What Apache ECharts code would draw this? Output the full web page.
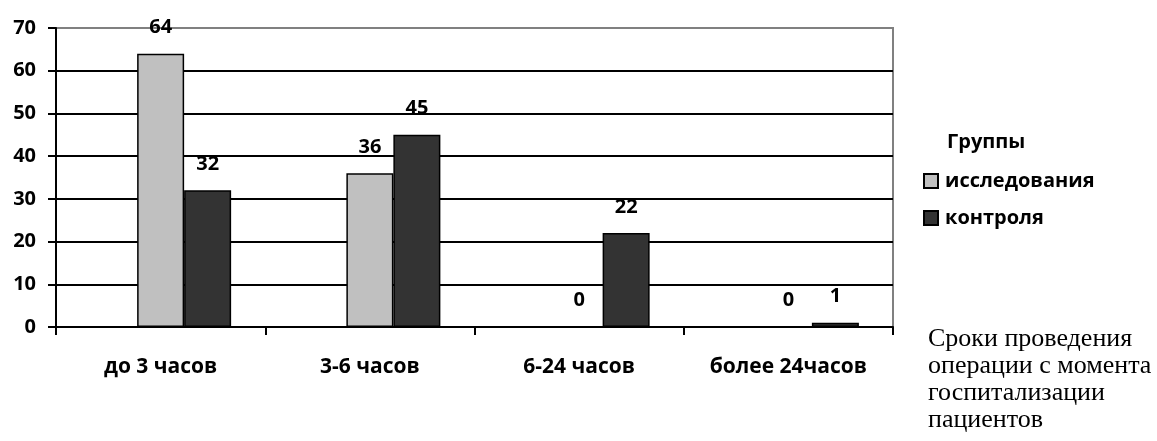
<!DOCTYPE html>
<html>
<head>
<meta charset="utf-8">
<script src="https://cdn.jsdelivr.net/npm/echarts@6/dist/echarts.min.js"></script>
<style>html,body{margin:0;padding:0;background:#fff}#c{width:1157px;height:441px}</style>
</head>
<body>
<div id="c"></div>
<script>
var categories = ['до 3 часов', '3-6 часов', '6-24 часов', 'более 24часов'];
var studyGroup = [64, 36, 0, 0];
var controlGroup = [32, 45, 22, 1];
var emptySlot = [null, null, null, null];
var yTicks = [0, 10, 20, 30, 40, 50, 60, 70];
var legendTitle = 'Группы';
var axisNote = 'Сроки проведения\nоперации с момента\nгоспитализации\nпациентов';

var FONT = 'Open Sans';
var chart = echarts.init(document.getElementById('c'), null, {renderer: 'canvas'});
var labelStyle = {show: true, position: 'top', distance: 16, color: '#000', fontFamily: FONT, fontWeight: 'bold', fontSize: 20};
var splitColors = yTicks.map(function (v, i) { return i === yTicks.length - 1 ? '#808080' : '#000'; });
chart.setOption({
  animation: false,
  backgroundColor: '#fff',
  title: [
    {text: legendTitle, left: 942, top: 127, textStyle: {fontFamily: FONT, fontWeight: 'bold', fontSize: 20, color: '#000'}},
    {text: axisNote, left: 923, top: 321, textStyle: {fontFamily: 'Liberation Serif', fontWeight: 'normal', fontSize: 26, lineHeight: 27, color: '#000'}}
  ],
  legend: {
    data: ['исследования', 'контроля'],
    orient: 'vertical', left: 923, top: 171, padding: 0, itemWidth: 14, itemHeight: 14, itemGap: 17,
    icon: 'rect',
    textStyle: {fontFamily: FONT, fontWeight: 'bold', fontSize: 20, color: '#000', padding: [0, 0, 0, 2]}
  },
  grid: {left: 56, right: 264, top: 28, bottom: 114, show: true, borderColor: '#808080', borderWidth: 2, backgroundColor: 'transparent'},
  xAxis: {
    type: 'category', data: categories,
    axisLine: {lineStyle: {color: '#000', width: 2}},
    axisTick: {show: true, length: 8, lineStyle: {color: '#000', width: 2}},
    axisLabel: {margin: 30, color: '#000', fontFamily: FONT, fontWeight: 'bold', fontSize: 21}
  },
  yAxis: {
    type: 'value', min: 0, max: 70, interval: 10,
    axisLine: {show: true, lineStyle: {color: '#000', width: 2}},
    axisTick: {show: true, length: 8, lineStyle: {color: '#000', width: 2}},
    splitLine: {show: true, lineStyle: {color: splitColors, width: 2}},
    axisLabel: {margin: 20, color: '#000', fontFamily: FONT, fontWeight: 'bold', fontSize: 20}
  },
  series: [
    {name: 'spacer', type: 'bar', data: emptySlot, barWidth: 47, barGap: '0%', silent: true},
    {name: 'исследования', type: 'bar', data: studyGroup, barWidth: 47, barGap: '0%',
     itemStyle: {color: '#c0c0c0', borderColor: '#000', borderWidth: 1.5}, label: labelStyle},
    {name: 'контроля', type: 'bar', data: controlGroup, barWidth: 47, barGap: '0%',
     itemStyle: {color: '#333333', borderColor: '#000', borderWidth: 1.5}, label: labelStyle}
  ]
});
</script>
</body>
</html>
